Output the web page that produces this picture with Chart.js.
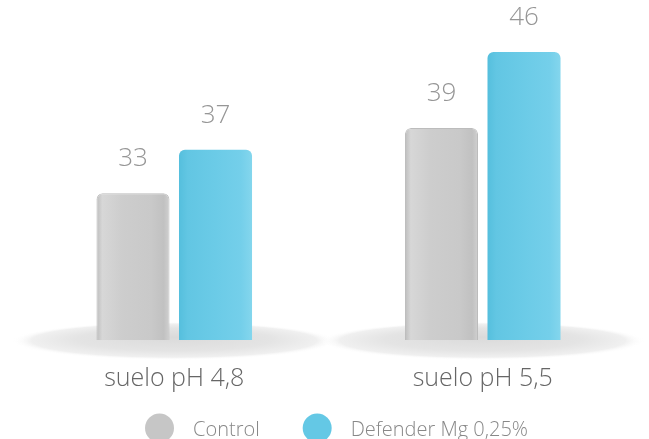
<!DOCTYPE html>
<html>
<head>
<meta charset="utf-8">
<script src="https://cdn.jsdelivr.net/npm/chart.js@4.4.1/dist/chart.umd.min.js"></script>
<style>
  html, body { margin: 0; padding: 0; background: #fff; }
  #wrap { width: 649px; height: 439px; }
</style>
</head>
<body>
<div id="wrap"><canvas id="chart"></canvas></div>
<script>
const categories = ['suelo pH 4,8', 'suelo pH 5,5'];
const seriesNames = ['Control', 'Defender Mg 0,25%'];
const controlValues = [33, 39];
const defenderValues = [37, 46];

const FONT = "'Open Sans', sans-serif";
const colors = ['#c6c6c6', '#64c8e5'];
const CAT_PCT = 0.535, BAR_PCT = 0.885;

// horizontal shading across each bar, placed from the x scale
function barShade(stops) {
  return (c) => {
    const x = c.chart.scales.x;
    if (!x || c.dataIndex === undefined || !isFinite(x.width)) return stops[2][1];
    const slot = (x.width / categories.length) * CAT_PCT / 2;
    const w = slot * BAR_PCT;
    const cx = x.getPixelForValue(c.dataIndex) + (c.datasetIndex - 0.5) * slot;
    const g = c.chart.ctx.createLinearGradient(cx - w / 2, 0, cx + w / 2, 0);
    stops.forEach(([p, col]) => g.addColorStop(p, col));
    return g;
  };
}

const greyStops = [[0, '#bdbdbd'], [0.08, '#d7d7d7'], [0.35, '#cdcdcd'], [0.75, '#c9c9c9'], [0.92, '#c1c1c1'], [1, '#d0d0d0']];
const blueStops = [[0, '#55bfdd'], [0.12, '#62c6e3'], [0.5, '#6bcbe7'], [0.85, '#74cfea'], [1, '#84d6ed']];

// soft grey ellipse under each group of bars
const floorShadow = {
  id: 'floorShadow',
  beforeDatasetsDraw(chart) {
    const { ctx, scales: { x, y } } = chart;
    const cy = y.getPixelForValue(y.min) + 1;
    categories.forEach((_, i) => {
      const cx = x.getPixelForValue(i);
      const rx = 162, ry = 19;
      ctx.save();
      ctx.translate(cx, cy);
      ctx.scale(1, ry / rx);
      const g = ctx.createRadialGradient(0, -rx * 0.2, 0, 0, 0, rx);
      g.addColorStop(0, '#dadada');
      g.addColorStop(0.6, '#e4e4e4');
      g.addColorStop(0.88, '#f0f0f0');
      g.addColorStop(1, 'rgba(255,255,255,0)');
      ctx.fillStyle = g;
      ctx.beginPath();
      ctx.arc(0, 0, rx, 0, Math.PI * 2);
      ctx.fill();
      ctx.restore();
    });
  }
};

// numbers above the bars
const valueLabels = {
  id: 'valueLabels',
  afterDatasetsDraw(chart) {
    const { ctx } = chart;
    ctx.save();
    ctx.font = `300 26px ${FONT}`;
    ctx.fillStyle = '#969696';
    ctx.textAlign = 'center';
    ctx.textBaseline = 'alphabetic';
    chart.data.datasets.forEach((ds, di) => {
      chart.getDatasetMeta(di).data.forEach((bar, i) => {
        ctx.fillText(String(ds.data[i]), bar.x, bar.y - 27);
      });
    });
    ctx.restore();
  }
};

// legend with round dots at the bottom
const dotLegend = {
  id: 'dotLegend',
  afterDraw(chart) {
    const { ctx, chartArea } = chart;
    const r = 14.5, gapText = 19, gapItem = 43;
    ctx.save();
    ctx.font = `300 20px ${FONT}`;
    const widths = seriesNames.map(n => ctx.measureText(n).width);
    const total = widths.reduce((a, w) => a + 2 * r + gapText + w, 0) + gapItem * (seriesNames.length - 1);
    let xPos = (chartArea.left + chartArea.right) / 2 + 8 - total / 2;
    const yDot = 428, yText = 436;
    seriesNames.forEach((n, i) => {
      ctx.fillStyle = colors[i];
      ctx.beginPath();
      ctx.arc(xPos + r, yDot, r, 0, Math.PI * 2);
      ctx.fill();
      ctx.fillStyle = '#888';
      ctx.textAlign = 'left';
      ctx.textBaseline = 'alphabetic';
      ctx.fillText(n, xPos + 2 * r + gapText, yText);
      xPos += 2 * r + gapText + widths[i] + gapItem;
    });
    ctx.restore();
  }
};

new Chart(document.getElementById('chart'), {
  type: 'bar',
  data: {
    labels: categories,
    datasets: [
      { label: seriesNames[0], data: controlValues, backgroundColor: barShade(greyStops), borderColor: '#bcbcbc', borderWidth: 1 },
      { label: seriesNames[1], data: defenderValues, backgroundColor: barShade(blueStops), borderWidth: 0 }
    ]
  },
  options: {
    responsive: true,
    maintainAspectRatio: false,
    animation: false,
    layout: { padding: { left: 20, right: 12, top: 3, bottom: 29 } },
    datasets: {
      bar: {
        categoryPercentage: CAT_PCT,
        barPercentage: BAR_PCT,
        borderRadius: 6,
        borderSkipped: false
      }
    },
    scales: {
      x: {
        grid: { display: false },
        border: { display: false },
        ticks: { color: '#666', font: { family: FONT, size: 25, weight: 300 }, padding: 16 }
      },
      y: { display: false, min: 19.5, max: 50.5 }
    },
    plugins: {
      legend: { display: false },
      tooltip: { enabled: false }
    }
  },
  plugins: [floorShadow, valueLabels, dotLegend]
});
</script>
</body>
</html>
